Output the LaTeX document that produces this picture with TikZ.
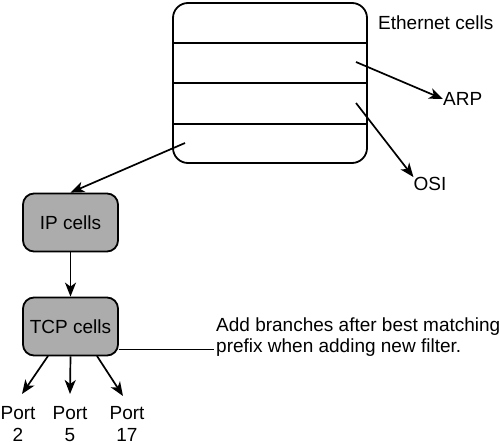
\documentclass[tikz,border=0pt]{standalone}
\usepackage{fontspec}
\setmainfont{Liberation Sans}
\usetikzlibrary{arrows.meta}
\definecolor{boxgray}{RGB}{172,172,172}
\begin{document}
\begin{tikzpicture}[x=1pt,y=-1pt,
  lbl/.style={font=\fontsize{19}{21}\selectfont, inner sep=0pt},
  portlbl/.style={font=\fontsize{19}{21}\selectfont, inner sep=0pt, anchor=base},
  cellbox/.style={draw, line width=1.8pt, rounded corners=11pt, fill=boxgray, minimum width=95pt, minimum height=58pt, font=\fontsize{19}{21}\selectfont},
  arr/.style={line width=1.7pt, -{Stealth[length=14pt,width=11pt,inset=4pt]}}
]
\useasboundingbox (0,0) rectangle (500,444);
% Ethernet table
\draw[line width=1.8pt, rounded corners=15pt] (173,3) rectangle (367,163);
\draw[line width=1.8pt] (173,43) -- (367,43) (173,83) -- (367,83) (173,124) -- (367,124);
\coordinate (e1) at (356,62);
\coordinate (e2) at (356,103);
\coordinate (e3) at (185,143);
\node[lbl, anchor=west] (eth) at (378,23) {Ethernet cells};
\node[lbl, anchor=west] (arp) at (443,99) {ARP};
\node[lbl] (osi) at (430,184) {OSI};
\draw[arr] (e1) -- (arp.west);
\draw[arr] (e2) -- (osi.north west);
% IP / TCP
\node[cellbox] (ip) at (70.5,222.5) {IP cells};
\node[cellbox] (tcp) at (70.5,326.5) {TCP cells};
\draw[arr] (e3) -- (ip.north);
\draw[arr] (ip) -- (tcp);
% note
\node[lbl, anchor=west, align=left] (note) at (216,337) {Add branches after best matching\\prefix when adding new filter.};
\draw[line width=1pt] (tcp.east |- 0,349) -- (214,349);
% ports
\node[portlbl] (p2) at (18,419) {Port};
\node[portlbl] (p2n) at (18,441) {2};
\node[portlbl] (p5) at (70,419) {Port};
\node[portlbl] (p5n) at (70,441) {5};
\node[portlbl] (p17) at (127,419) {Port};
\node[portlbl] (p17n) at (127,441) {17};
\draw[arr] (48,356) -- (22,394);
\draw[arr] (tcp.south) -- (70,394);
\draw[arr] (97,356) -- (123,396);
\end{tikzpicture}
\end{document}
